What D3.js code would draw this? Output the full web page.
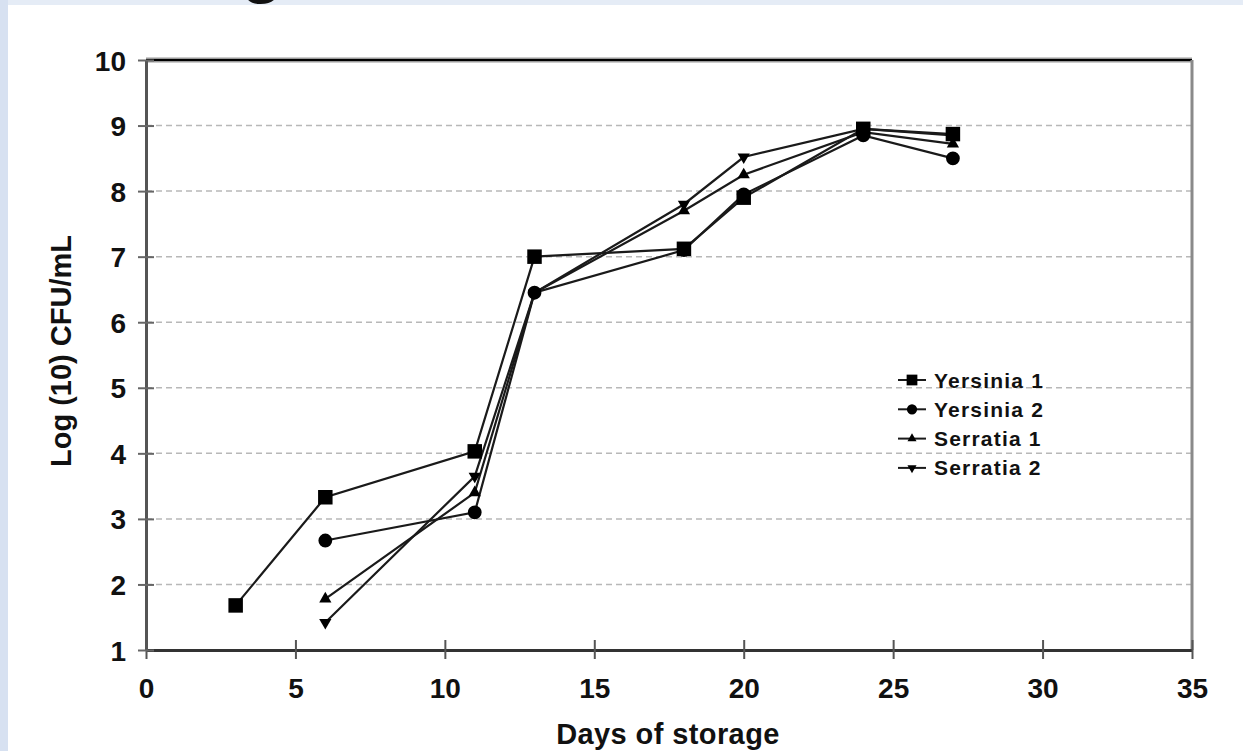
<!DOCTYPE html>
<html>
<head>
<meta charset="utf-8">
<script src="https://cdn.jsdelivr.net/npm/d3@7"></script>
<style>
html,body{margin:0;padding:0;background:#dfe7f3;}
svg{display:block;}
text{font-family:"Liberation Sans",Arial,sans-serif;font-weight:bold;fill:#111;}
</style>
</head>
<body>
<svg id="chart" width="1243" height="751"></svg>
<script>
var days = [3, 6, 11, 13, 18, 20, 24, 27];
var yersinia1 = [1.68, 3.33, 4.03, 7.0, 7.12, 7.9, 8.95, 8.87];
var yersinia2 = [null, 2.67, 3.1, 6.45, 7.1, 7.95, 8.85, 8.5];
var serratia1 = [null, 1.78, 3.4, 6.45, 7.7, 8.25, 8.9, 8.72];
var serratia2 = [null, 1.42, 3.65, 6.45, 7.8, 8.52, 8.95, 8.85];
var seriesNames = ["Yersinia 1", "Yersinia 2", "Serratia 1", "Serratia 2"];
var xTicks = [0, 5, 10, 15, 20, 25, 30, 35];
var yTicks = [1, 2, 3, 4, 5, 6, 7, 8, 9, 10];

var svg = d3.select("#chart");
svg.append("rect").attr("x", 0).attr("y", 0).attr("width", 1243).attr("height", 751).attr("fill", "#e5ecf6");
svg.append("rect").attr("x", 0).attr("y", 0).attr("width", 8).attr("height", 751).attr("fill", "#d7e1f1");
// bottom of the slide title, cut by the white panel as in the source
svg.append("text").attr("x", 262).attr("y", -11).attr("text-anchor", "middle")
  .style("font-size", "70px").text("g");
svg.append("rect").attr("x", 8).attr("y", 5).attr("width", 1235).attr("height", 746).attr("fill", "#ffffff");

var x = d3.scaleLinear().domain([0, 35]).range([146, 1192]);
var y = d3.scaleLinear().domain([1, 10]).range([650, 60]);

// dashed grid
svg.append("g").selectAll("line").data(yTicks.filter(function (d) { return d > 1 && d < 10; }))
  .enter().append("line")
  .attr("x1", x(0)).attr("x2", x(35))
  .attr("y1", function (d) { return y(d); }).attr("y2", function (d) { return y(d); })
  .attr("stroke", "#b8b8b8").attr("stroke-width", 1.5).attr("stroke-dasharray", "6,4");

// frame: top and right
svg.append("line").attr("x1", x(0)).attr("x2", x(35)).attr("y1", y(10)).attr("y2", y(10))
  .attr("stroke", "#9a9a9a").attr("stroke-width", 5);
svg.append("line").attr("x1", x(0)).attr("x2", x(35)).attr("y1", y(10)).attr("y2", y(10))
  .attr("stroke", "#000").attr("stroke-width", 2);
svg.append("line").attr("x1", x(35)).attr("x2", x(35)).attr("y1", y(10)).attr("y2", y(1))
  .attr("stroke", "#8a8a8a").attr("stroke-width", 3);

var xAxis = svg.append("g").attr("transform", "translate(0," + y(1) + ")")
  .call(d3.axisBottom(x).tickValues(xTicks).tickSizeOuter(0));
xAxis.select(".domain").attr("stroke", "#333").attr("stroke-width", 3);
xAxis.selectAll(".tick line").attr("y1", -10).attr("y2", 9).attr("stroke", "#555").attr("stroke-width", 2);
xAxis.selectAll(".tick text").attr("y", 48).attr("dy", 0).style("font-size", "28px").attr("fill", "#111");

var yAxis = svg.append("g").attr("transform", "translate(" + x(0) + ",0)")
  .call(d3.axisLeft(y).tickValues(yTicks).tickSizeOuter(0));
yAxis.select(".domain").attr("stroke", "#555").attr("stroke-width", 3);
yAxis.selectAll(".tick line").attr("x1", -8).attr("x2", 8).attr("stroke", "#666").attr("stroke-width", 2);
yAxis.selectAll(".tick text").attr("x", -20).attr("dy", "0.36em").style("font-size", "28px").attr("fill", "#111");
xAxis.selectAll("text").attr("font-family", null);
yAxis.selectAll("text").attr("font-family", null);

svg.append("text").attr("x", 668).attr("y", 744).attr("text-anchor", "middle")
  .style("font-size", "29px").style("letter-spacing", "0.4px").text("Days of storage");
svg.append("text").attr("transform", "translate(71,351) rotate(-90)").attr("text-anchor", "middle")
  .style("font-size", "29px").text("Log (10) CFU/mL");

var allSeries = [yersinia1, yersinia2, serratia1, serratia2];
var shapes = [
  {type: d3.symbolSquare, size: 210, rot: 0},
  {type: d3.symbolCircle, size: 150, rot: 0},
  {type: d3.symbolTriangle, size: 65, rot: 0},
  {type: d3.symbolTriangle, size: 65, rot: 180}
];

var line = d3.line()
  .defined(function (d) { return d.v != null; })
  .x(function (d) { return x(d.day); })
  .y(function (d) { return y(d.v); });

allSeries.forEach(function (vals, i) {
  var pts = days.map(function (d, j) { return {day: d, v: vals[j]}; });
  svg.append("path").datum(pts).attr("d", line)
    .attr("fill", "none").attr("stroke", "#1a1a1a").attr("stroke-width", 2.2);
});

allSeries.forEach(function (vals, i) {
  var pts = days.map(function (d, j) { return {day: d, v: vals[j]}; })
    .filter(function (p) { return p.v != null; });
  var sym = d3.symbol().type(shapes[i].type).size(shapes[i].size);
  svg.append("g").selectAll("path").data(pts).enter().append("path")
    .attr("d", sym)
    .attr("transform", function (p) { return "translate(" + x(p.day) + "," + y(p.v) + ") rotate(" + shapes[i].rot + ")"; })
    .attr("fill", "#000");
});

var legend = svg.append("g").attr("transform", "translate(898,380)");
var item = legend.selectAll("g").data(seriesNames).enter().append("g")
  .attr("transform", function (d, i) { return "translate(0," + (i * 29.3) + ")"; });
item.append("line").attr("x1", 0).attr("x2", 28).attr("y1", 0).attr("y2", 0)
  .attr("stroke", "#1a1a1a").attr("stroke-width", 2);
item.append("path")
  .attr("d", function (d, i) { return d3.symbol().type(shapes[i].type).size(shapes[i].size * 0.55)(); })
  .attr("transform", function (d, i) { return "translate(14,0) rotate(" + shapes[i].rot + ")"; })
  .attr("fill", "#000");
item.append("text").attr("x", 36).attr("dy", "0.36em")
  .style("font-size", "21px").style("letter-spacing", "1.2px").attr("fill", "#222").text(function (d) { return d; });
</script>
</body>
</html>
